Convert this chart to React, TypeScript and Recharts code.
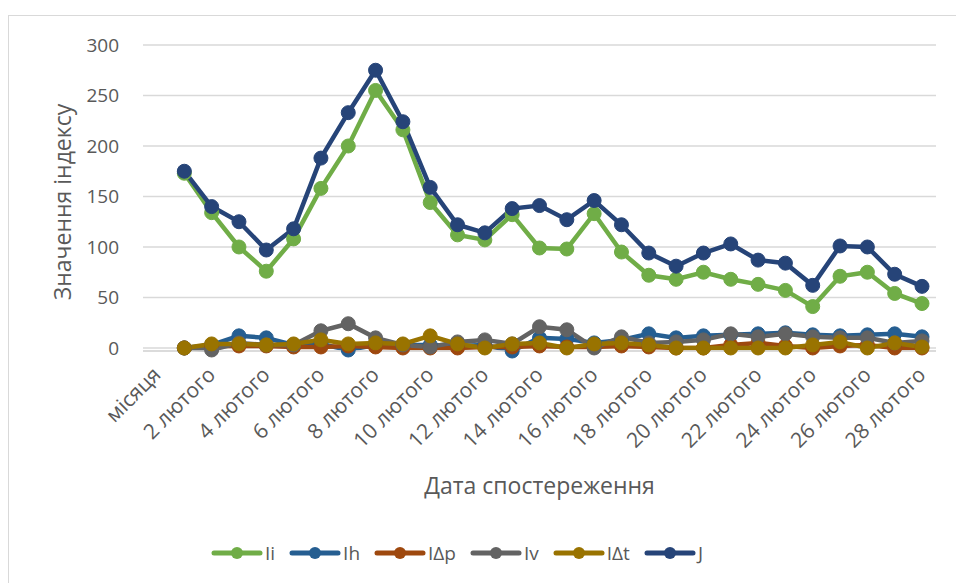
import { CartesianGrid, Legend, Line, LineChart, XAxis, YAxis } from 'recharts';

const categories = [
  'місяця',
  '1 лютого', '2 лютого', '3 лютого', '4 лютого', '5 лютого', '6 лютого', '7 лютого',
  '8 лютого', '9 лютого', '10 лютого', '11 лютого', '12 лютого', '13 лютого', '14 лютого',
  '15 лютого', '16 лютого', '17 лютого', '18 лютого', '19 лютого', '20 лютого', '21 лютого',
  '22 лютого', '23 лютого', '24 лютого', '25 лютого', '26 лютого', '27 лютого', '28 лютого',
];

const ii = [null, 173, 134, 100, 76, 108, 158, 200, 255, 216, 144, 112, 107, 132, 99, 98, 133, 95, 72, 68, 75, 68, 63, 57, 41, 71, 75, 54, 44];
const ih = [null, 0, 3, 12, 10, 3, 4, -2, 3, 3, 3, 2, 3, -3, 10, 9, 5, 8, 14, 10, 12, 13, 14, 15, 13, 12, 13, 14, 11];
const idp = [null, 0, 2, 2, 2, 1, 1, 2, 1, 0, 0, 0, 1, 1, 2, 1, 1, 2, 1, 0, 0, 3, 5, 2, 0, 2, 3, 0, 0];
const iv = [null, 0, -2, 5, 3, 3, 17, 24, 10, 3, 1, 6, 8, 4, 21, 18, 0, 11, 5, 6, 8, 14, 11, 14, 11, 10, 10, 5, 7];
const idt = [null, 0, 4, 4, 3, 4, 8, 4, 5, 4, 12, 4, 0, 4, 5, 0, 4, 5, 3, 0, 0, 0, 0, 0, 3, 6, 0, 5, 1];
const jj = [null, 175, 140, 125, 97, 118, 188, 233, 275, 224, 159, 122, 114, 138, 141, 127, 146, 122, 94, 81, 94, 103, 87, 84, 62, 101, 100, 73, 61];

const yTicks = [0, 50, 100, 150, 200, 250, 300];

const series = [
  { key: 'Ii', values: ii, color: '#70AD47' },
  { key: 'Ih', values: ih, color: '#255E91' },
  { key: 'IΔp', values: idp, color: '#9E480E' },
  { key: 'Iv', values: iv, color: '#636363' },
  { key: 'IΔt', values: idt, color: '#997300' },
  { key: 'J', values: jj, color: '#264478' },
];

const data = categories.map((name, i) => {
  const row: Record<string, string | number | null> = { name };
  series.forEach((s) => {
    row[s.key] = s.values[i];
  });
  return row;
});

const font = '"Open Sans", sans-serif';
const textColor = '#595959';

function XTick({ x, y, payload }: any) {
  const tx = x + 5;
  const ty = y + 17;
  return (
    <text
      x={tx}
      y={ty}
      transform={`rotate(-45, ${tx}, ${ty})`}
      textAnchor="end"
      fill={textColor}
      fontSize={21}
      fontFamily={font}
    >
      {payload.value}
    </text>
  );
}

function YTitle({ viewBox }: any) {
  const cx = 62;
  const cy = viewBox.y + viewBox.height / 2 + 4;
  return (
    <text
      x={cx}
      y={cy}
      transform={`rotate(-90, ${cx}, ${cy})`}
      textAnchor="middle"
      dominantBaseline="central"
      fill={textColor}
      fontSize={23}
      fontFamily={font}
    >
      Значення індексу
    </text>
  );
}

function LegendContent() {
  return (
    <div style={{ display: 'flex', justifyContent: 'center', gap: 14, paddingRight: 42 }}>
      {series.map((s) => (
        <div key={s.key} style={{ display: 'flex', alignItems: 'center' }}>
          <svg width={52} height={20}>
            <line x1={3} y1={10} x2={49} y2={10} stroke={s.color} strokeWidth={5} strokeLinecap="round" />
            <circle cx={26} cy={10} r={6} fill={s.color} />
          </svg>
          <span style={{ color: textColor, fontSize: 19, fontFamily: font, marginLeft: 2 }}>{s.key}</span>
        </div>
      ))}
    </div>
  );
}

export default function App() {
  return (
    <div
      style={{
        position: 'absolute',
        left: 0,
        top: 0,
        width: 956,
        height: 583,
        background: '#fff',
        overflow: 'hidden',
        fontFamily: font,
      }}
    >
      <div
        style={{
          position: 'absolute',
          left: 8,
          top: 15,
          width: 1000,
          height: 700,
          borderLeft: '1.5px solid #d9d9d9',
          borderTop: '1.5px solid #d9d9d9',
        }}
      />
      <LineChart
        width={956}
        height={583}
        data={data}
        margin={{ top: 45, right: 20, bottom: 85, left: 40 }}
        style={{ position: 'absolute', left: 0, top: 0 }}
      >
        <CartesianGrid vertical={false} stroke="#d9d9d9" strokeWidth={1.5} />
        <XAxis
          dataKey="name"
          interval={1}
          height={147}
          padding={{ left: 14, right: 14 }}
          tick={<XTick />}
          tickLine={false}
          axisLine={{ stroke: '#d9d9d9', strokeWidth: 1.5 }}
          label={{
            value: 'Дата спостереження',
            position: 'insideBottom',
            offset: 4,
            fill: textColor,
            fontSize: 23,
            fontFamily: font,
          }}
        />
        <YAxis
          width={103}
          domain={[0, 300]}
          ticks={yTicks}
          tickLine={false}
          axisLine={false}
          tickSize={0}
          tickMargin={24}
          tick={{ fill: textColor, fontSize: 19, fontFamily: font }}
          label={<YTitle />}
        />
        <Legend
          layout="horizontal"
          verticalAlign="middle"
          align="center"
          content={<LegendContent />}
          wrapperStyle={{ top: 540, left: 0, width: 956 }}
        />
        {series.map((s) => (
          <Line
            key={s.key}
            dataKey={s.key}
            stroke={s.color}
            strokeWidth={4.5}
            dot={{ r: 7, fill: s.color, stroke: s.color, strokeWidth: 1 }}
            activeDot={false}
            isAnimationActive={false}
          />
        ))}
      </LineChart>
    </div>
  );
}
